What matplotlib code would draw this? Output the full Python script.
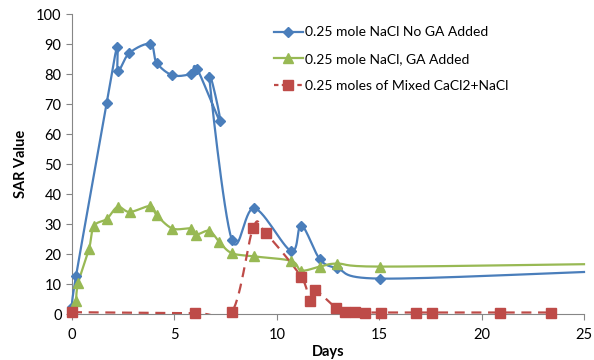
import matplotlib
matplotlib.use('Agg')
import matplotlib.pyplot as plt
import numpy as np

plt.rcParams['font.family'] = ['Lato', 'DejaVu Sans']

# data (days, SAR value)
blue_x = [0.0, 0.2, 1.7, 2.2, 2.25, 2.8, 3.83, 4.13, 4.9, 5.8, 6.1, 7.23, 6.7, 7.8, 8.9, 10.7, 11.2, 12.1, 12.96, 15.05, 25.0]
blue_y = [2.5, 12.8, 70.5, 89.0, 81.0, 87.0, 90.0, 83.8, 79.6, 80.0, 81.8, 64.2, 79.0, 24.8, 35.3, 21.0, 29.5, 18.3, 15.2, 11.8, 14.0]

green_x = [0.2, 0.3, 0.83, 1.07, 1.7, 2.23, 2.82, 3.83, 4.13, 4.9, 5.8, 6.07, 6.7, 7.2, 7.8, 8.9, 10.7, 11.2, 12.1, 12.96, 15.05, 25.0]
green_y = [4.5, 10.3, 21.7, 29.3, 31.7, 35.7, 34.0, 36.0, 33.0, 28.5, 28.5, 26.5, 27.7, 24.0, 20.3, 19.2, 17.7, 14.5, 15.8, 16.8, 15.8, 16.6]

red_x = [0.0, 6.0, 7.8, 8.85, 9.45, 11.2, 11.6, 11.85, 12.9, 13.35, 13.8, 14.3, 15.1, 16.8, 17.6, 20.9, 23.4]
red_y = [0.6, 0.3, 0.6, 28.8, 27.0, 12.3, 4.3, 8.0, 2.0, 0.8, 0.7, 0.5, 0.5, 0.5, 0.5, 0.5, 0.5]

labels = ['0.25 mole NaCl No GA Added', '0.25 mole NaCl, GA Added', '0.25 moles of Mixed CaCl2+NaCl']
colors = ['#4A7EBB', '#98B954', '#BE4B48']


def smooth(x, y, n=16):
    # excel-style smoothed line (bezier through the points)
    pts = np.column_stack([x, y]).astype(float)
    P = np.vstack([pts[0], pts, pts[-1]])
    t = np.linspace(0, 1, n)[:, None]
    out = []
    for i in range(1, len(P) - 2):
        p0, p1, p2, p3 = P[i - 1], P[i], P[i + 1], P[i + 2]
        c1 = p1 + (p2 - p0) / 6
        c2 = p2 - (p3 - p1) / 6
        out.append((1 - t) ** 3 * p1 + 3 * (1 - t) ** 2 * t * c1 + 3 * (1 - t) * t ** 2 * c2 + t ** 3 * p2)
    s = np.vstack(out)
    return s[:, 0], s[:, 1]


fig = plt.figure(figsize=(5.94, 3.6), dpi=100)
ax = fig.add_axes([72 / 594, 1 - 314 / 360, 512 / 594, 300 / 360])

# blue
sx, sy = smooth(blue_x, blue_y)
ax.plot(sx, sy, color=colors[0], lw=1.6, clip_on=False, zorder=3)
ax.plot(blue_x[:-1], blue_y[:-1], ls='none', marker='D', ms=5, color=colors[0], clip_on=False, zorder=4)

# green
sx, sy = smooth(green_x, green_y)
ax.plot(sx, sy, color=colors[1], lw=1.6, clip_on=False, zorder=3)
ax.plot(green_x[:-1], green_y[:-1], ls='none', marker='^', ms=7, color=colors[1], clip_on=False, zorder=4)

# red dashed (clipped at the axis like excel)
sx, sy = smooth(red_x, red_y)
ax.plot(sx, sy, color=colors[2], lw=1.6, ls=(0, (4.5, 3)), zorder=3)
ax.plot(red_x, red_y, ls='none', marker='s', ms=6.5, color=colors[2], clip_on=False, zorder=5)

ax.set_xlim(0, 25)
ax.set_ylim(0, 100)
ax.set_xticks(range(0, 26, 5))
ax.set_yticks(range(0, 101, 10))
for s in ['top', 'right']:
    ax.spines[s].set_visible(False)
for s in ['left', 'bottom']:
    ax.spines[s].set_color('#868686')
    ax.spines[s].set_linewidth(0.8)
ax.tick_params(axis='both', colors='#868686', labelcolor='black', labelsize=10.5, length=4, width=0.8)
ax.tick_params(axis='x', pad=6)
ax.set_xlabel('Days', fontsize=10.5, fontweight='bold', labelpad=2)
ax.set_ylabel('SAR Value', fontsize=10.5, fontweight='bold', labelpad=6)

# legend
handles = [
    plt.Line2D([], [], color=colors[0], lw=1.6, marker='D', ms=5),
    plt.Line2D([], [], color=colors[1], lw=1.6, marker='^', ms=7),
    plt.Line2D([], [], color=colors[2], lw=1.6, ls=(0, (2, 1.5)), marker='s', ms=6.5),
]
fig.legend(handles, labels, loc='upper left', bbox_to_anchor=(261 / 594, 1 - 14 / 360),
           frameon=False, fontsize=10, handlelength=2.1, handletextpad=0.2, labelspacing=1.05)

fig.savefig('out.png', dpi=100)
